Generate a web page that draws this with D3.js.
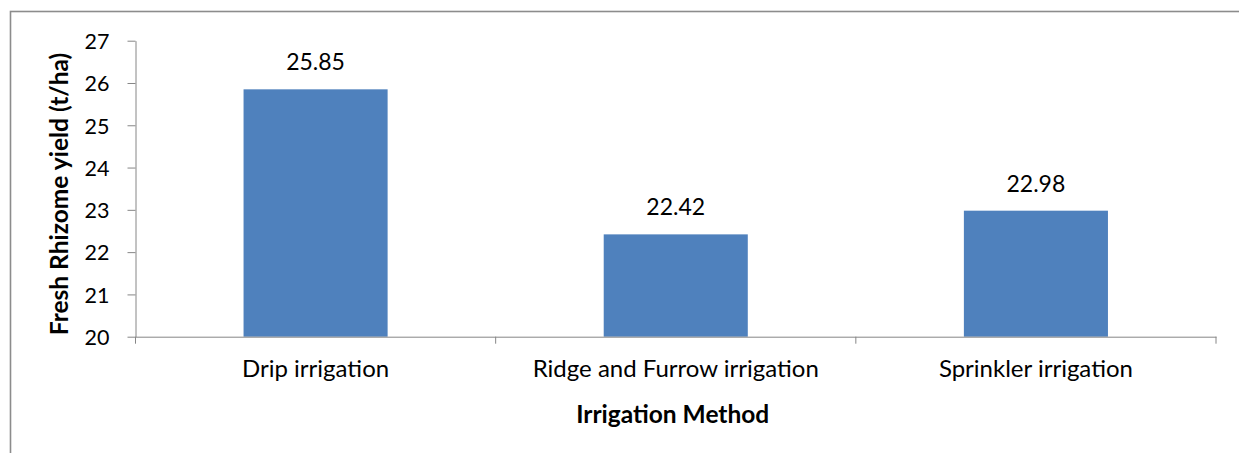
<!DOCTYPE html>
<html>
<head>
<meta charset="utf-8">
<script src="https://cdn.jsdelivr.net/npm/d3@7"></script>
<style>
  html, body { margin: 0; padding: 0; background: #fff; }
  svg { display: block; }
  text { font-family: Lato, "Open Sans", sans-serif; fill: #000; }
</style>
</head>
<body>
<svg id="chart" width="1239" height="453"></svg>
<script>
const categories = ["Drip irrigation", "Ridge and Furrow irrigation", "Sprinkler irrigation"];
const yields = [25.85, 22.42, 22.98];
const yTicks = [20, 21, 22, 23, 24, 25, 26, 27];
const xTitle = "Irrigation Method";
const yTitle = "Fresh Rhizome yield (t/ha)";

const svg = d3.select("#chart");
const W = 1239, H = 453;
const plot = { left: 135.5, right: 1216, top: 40.7, bottom: 336.7 };

// outer chart border
svg.append("rect")
  .attr("x", 10.5).attr("y", 11.5)
  .attr("width", W + 20).attr("height", H + 20)
  .attr("fill", "none").attr("stroke", "#8c8c8c").attr("stroke-width", 1.6);

const x = d3.scaleBand().domain(categories).range([plot.left, plot.right]).paddingInner(0.6).paddingOuter(0.3);
const xb = d3.scaleBand().domain(categories).range([plot.left, plot.right]);
const y = d3.scaleLinear().domain([20, 27]).range([plot.bottom, plot.top]);

// bars
svg.append("g").selectAll("rect").data(yields).join("rect")
  .attr("x", (d, i) => x(categories[i]))
  .attr("y", d => y(d))
  .attr("width", x.bandwidth())
  .attr("height", d => y(20) - y(d))
  .attr("fill", "#4F81BD");

// y axis
const yAxis = svg.append("g").attr("transform", `translate(${plot.left},0)`)
  .call(d3.axisLeft(y).tickValues(yTicks).tickFormat(d3.format("d")).tickSizeInner(8).tickSizeOuter(0).tickPadding(18));
yAxis.select(".domain").attr("stroke", "#868686");
yAxis.selectAll(".tick line").attr("stroke", "#868686");
yAxis.selectAll(".tick text").attr("font-size", "21.5px").attr("font-family", "Lato, sans-serif").attr("fill", "#000").attr("dy", "0.36em");

// x axis
const xAxis = svg.append("g").attr("transform", `translate(0,${plot.bottom})`)
  .call(d3.axisBottom(xb).tickSize(0).tickPadding(23));
xAxis.select(".domain").attr("stroke", "#868686");
xAxis.selectAll(".tick text").attr("font-size", "24px").attr("font-family", "Lato, sans-serif").attr("fill", "#000");
// category boundary tick marks
const bounds = [plot.left].concat(categories.map(c => xb(c) + xb.bandwidth()));
svg.append("g").selectAll("line").data(bounds).join("line")
  .attr("x1", d => d).attr("x2", d => d)
  .attr("y1", plot.bottom).attr("y2", plot.bottom + 7)
  .attr("stroke", "#868686");

// value labels
svg.append("g").selectAll("text").data(yields).join("text")
  .attr("x", (d, i) => x(categories[i]) + x.bandwidth() / 2)
  .attr("y", d => y(d) - 19)
  .attr("text-anchor", "middle")
  .attr("font-size", "23px")
  .text(d => d.toFixed(2));

// axis titles
svg.append("text")
  .attr("x", (plot.left + plot.right) / 2 - 3).attr("y", 423)
  .attr("text-anchor", "middle").attr("font-weight", "bold").attr("font-size", "24.5px")
  .text(xTitle);
svg.append("text")
  .attr("transform", "translate(68,194) rotate(-90)")
  .attr("text-anchor", "middle").attr("font-weight", "bold").attr("font-size", "24.5px")
  .text(yTitle);
</script>
</body>
</html>
